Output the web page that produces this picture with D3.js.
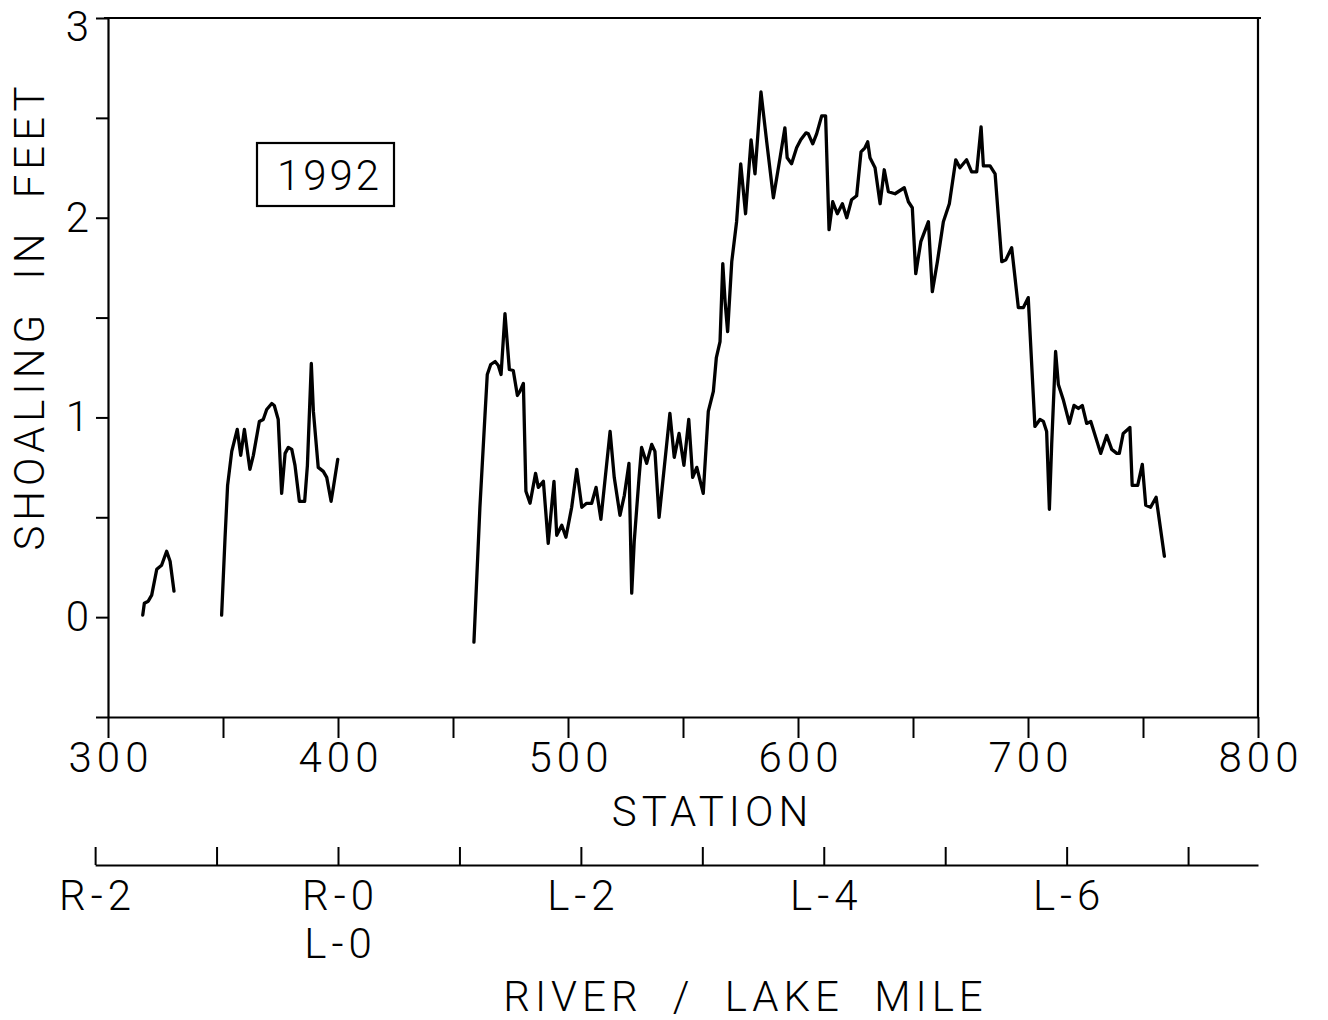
<!DOCTYPE html>
<html>
<head>
<meta charset="utf-8">
<script src="https://cdn.jsdelivr.net/npm/d3@7"></script>
<style>
  html, body { margin: 0; padding: 0; background: #fff; }
  svg { display: block; }
</style>
</head>
<body>
<svg id="chart" width="1328" height="1020"></svg>
<script>
// ---------------- DATA ----------------
const seg1Station = [315.1, 315.8, 317.5, 319.0, 321.2, 323.3, 325.5, 327.0, 328.7];
const seg1Shoal   = [0.01, 0.07, 0.08, 0.11, 0.24, 0.26, 0.33, 0.28, 0.13];

const seg2Station = [349.4, 350.9, 352.0, 353.8, 356.2, 357.7, 359.3, 361.7, 363.2, 365.8,
                     367.5, 369.0, 371.2, 372.3, 374.0, 375.5, 377.0, 378.4, 379.9, 381.3,
                     383.2, 385.5, 386.7, 388.4, 389.3, 391.4, 393.6, 395.1, 397.0, 398.0, 399.9];
const seg2Shoal   = [0.01, 0.40, 0.66, 0.83, 0.94, 0.81, 0.94, 0.74, 0.81, 0.98,
                     0.99, 1.04, 1.07, 1.06, 0.99, 0.62, 0.82, 0.85, 0.84, 0.76,
                     0.58, 0.58, 0.76, 1.27, 1.03, 0.75, 0.73, 0.70, 0.58, 0.65, 0.79];

const seg3Station = [459.1, 461.7, 463.9, 464.9, 466.4, 468.3, 469.7, 470.9, 472.6, 474.5,
                     476.2, 478.0, 479.1, 480.6, 481.7, 483.5, 485.9, 487.1, 489.3, 491.4,
                     493.9, 495.1, 497.3, 499.1, 501.6, 503.8, 506.0, 508.1, 510.3, 512.2,
                     514.3, 518.3, 520.1, 522.6, 524.5, 526.5, 527.7, 528.8, 530.9, 532.0,
                     534.2, 536.4, 537.8, 539.6, 544.3, 546.2, 548.3, 550.4, 552.5, 554.2,
                     556.0, 558.8, 561.0, 563.2, 564.5, 566.1, 567.3, 568.3, 569.4, 571.2,
                     573.3, 575.1, 577.2, 579.6, 581.3, 583.9, 586.4, 589.3, 592.2, 594.3,
                     595.3, 597.2, 599.4, 601.2, 603.5, 604.5, 606.4, 608.1, 610.3, 612.0,
                     613.5, 615.1, 617.1, 619.3, 621.2, 623.3, 625.5, 627.4, 629.1, 630.3,
                     631.3, 633.5, 635.7, 637.5, 639.3, 642.2, 646.2, 648.0, 649.7, 651.2,
                     653.4, 656.7, 658.4, 660.6, 663.2, 665.8, 668.6, 670.4, 673.3, 675.5,
                     677.7, 679.6, 680.6, 683.5, 685.7, 688.6, 690.4, 692.9, 695.8, 698.0,
                     700.1, 703.0, 705.2, 706.7, 708.1, 709.3, 710.3, 712.0, 713.2, 715.3,
                     718.0, 720.0, 721.9, 723.6, 725.5, 727.3, 731.6, 734.2, 736.4, 738.6,
                     739.7, 741.4, 744.3, 745.3, 747.7, 749.7, 751.2, 753.3, 755.7, 759.3];
const seg3Shoal   = [-0.125, 0.55, 1.01, 1.215, 1.265, 1.28, 1.26, 1.215, 1.52, 1.24,
                     1.235, 1.11, 1.13, 1.17, 0.63, 0.57, 0.72, 0.65, 0.68, 0.37,
                     0.68, 0.41, 0.46, 0.40, 0.55, 0.74, 0.55, 0.57, 0.57, 0.65,
                     0.49, 0.93, 0.70, 0.51, 0.61, 0.77, 0.12, 0.38, 0.70, 0.85,
                     0.77, 0.865, 0.83, 0.50, 1.02, 0.80, 0.92, 0.76, 0.99, 0.70,
                     0.75, 0.62, 1.03, 1.13, 1.30, 1.38, 1.77, 1.58, 1.43, 1.78,
                     1.98, 2.27, 2.02, 2.39, 2.22, 2.63, 2.38, 2.10, 2.30, 2.45,
                     2.30, 2.27, 2.35, 2.39, 2.425, 2.42, 2.37, 2.42, 2.51, 2.51,
                     1.94, 2.08, 2.02, 2.07, 2.00, 2.09, 2.11, 2.33, 2.35, 2.38,
                     2.30, 2.25, 2.07, 2.24, 2.13, 2.12, 2.15, 2.08, 2.05, 1.72,
                     1.88, 1.98, 1.63, 1.78, 1.98, 2.07, 2.29, 2.25, 2.29, 2.23,
                     2.23, 2.455, 2.26, 2.26, 2.22, 1.78, 1.79, 1.85, 1.55, 1.55,
                     1.60, 0.955, 0.99, 0.98, 0.93, 0.54, 0.865, 1.33, 1.165, 1.09,
                     0.97, 1.06, 1.045, 1.06, 0.97, 0.98, 0.82, 0.91, 0.84, 0.82,
                     0.82, 0.92, 0.95, 0.66, 0.66, 0.765, 0.56, 0.55, 0.60, 0.305];

const stationTicks = [300, 350, 400, 450, 500, 550, 600, 650, 700, 750, 800];
const stationLabels = [300, 400, 500, 600, 700, 800];
const shoalTicks = [-0.5, 0, 0.5, 1, 1.5, 2, 2.5, 3];
const shoalLabels = [0, 1, 2, 3];
const mileTicks = [-2, -1, 0, 1, 2, 3, 4, 5, 6, 7];
const mileLabels = [
  { mile: -2, lines: ["R-2"] },
  { mile: 0,  lines: ["R-0", "L-0"] },
  { mile: 2,  lines: ["L-2"] },
  { mile: 4,  lines: ["L-4"] },
  { mile: 6,  lines: ["L-6"] }
];
const stationsPerMile = 52.8;
const mileZeroStation = 400;
const yearLabel = "1992";
const yLabel = "SHOALING IN FEET";
const xLabel = "STATION";
const mileLabel = "RIVER / LAKE MILE";

// ---------------- DRAW ----------------
const FONT = "Roboto, 'DejaVu Sans', sans-serif";
const FS = 42;
const LS = 5;
const WS = 15;
const svg = d3.select("#chart");

const x = d3.scaleLinear([300, 800], [108, 1258]);
const y = d3.scaleLinear([-0.5, 3], [717, 18]);

function styleText(sel) {
  sel.attr("font-family", FONT).attr("font-weight", 300)
     .attr("font-size", FS).attr("letter-spacing", LS).attr("word-spacing", WS)
     .attr("fill", "#000");
}

// bottom station axis
const gx = svg.append("g").attr("transform", `translate(0,${y(-0.5)})`)
  .call(d3.axisBottom(x).tickValues(stationTicks).tickSize(21).tickSizeOuter(0).tickPadding(4)
    .tickFormat(d => stationLabels.includes(d) ? String(d) : ""));
gx.select(".domain").attr("stroke-width", 2.2);
gx.selectAll(".tick line").attr("stroke-width", 2);
gx.selectAll(".tick text").call(styleText).attr("dx", LS / 2);

// left shoaling axis
const gy = svg.append("g").attr("transform", `translate(${x(300)},0)`)
  .call(d3.axisLeft(y).tickValues(shoalTicks).tickSize(12).tickSizeOuter(0).tickPadding(7)
    .tickFormat(d => shoalLabels.includes(d) ? String(d) : ""));
gy.select(".domain").attr("stroke-width", 2.2);
gy.selectAll(".tick line").attr("stroke-width", 2);
gy.selectAll(".tick text").call(styleText).attr("letter-spacing", 0)
  .attr("dy", d => d === 3 ? "0.53em" : "0.32em");

// frame top & right
svg.append("line").attr("x1", x(300) - 4).attr("x2", x(800) + 3)
  .attr("y1", y(3)).attr("y2", y(3)).attr("stroke", "#000").attr("stroke-width", 2.2);
svg.append("line").attr("x1", x(800)).attr("x2", x(800))
  .attr("y1", y(3)).attr("y2", y(-0.5)).attr("stroke", "#000").attr("stroke-width", 2.2);

// data line
const line = d3.line().x(d => x(d[0])).y(d => y(d[1]));
const segments = [
  d3.zip(seg1Station, seg1Shoal),
  d3.zip(seg2Station, seg2Shoal),
  d3.zip(seg3Station, seg3Shoal)
];
svg.append("g").selectAll("path").data(segments).join("path")
  .attr("d", line).attr("fill", "none").attr("stroke", "#000")
  .attr("stroke-width", 3.3).attr("stroke-linejoin", "round").attr("stroke-linecap", "round");

// year box
const bx = svg.append("g");
bx.append("rect").attr("x", 257).attr("y", 143).attr("width", 137).attr("height", 63)
  .attr("fill", "none").attr("stroke", "#000").attr("stroke-width", 2.2);
bx.append("text").attr("x", 327 + LS / 2).attr("y", 190).attr("text-anchor", "middle")
  .call(styleText).attr("letter-spacing", 3).text(yearLabel);

// axis titles
svg.append("text").attr("transform", "translate(44,316) rotate(-90)")
  .attr("text-anchor", "middle").call(styleText).text(yLabel);
svg.append("text").attr("x", 710 + LS / 2).attr("y", 826).attr("text-anchor", "middle")
  .call(styleText).text(xLabel);

// river / lake mile axis
const mileToStation = m => mileZeroStation + stationsPerMile * m;
const mileScale = d3.scaleLinear()
  .domain([-2, (800 - mileZeroStation) / stationsPerMile])
  .range([x(mileToStation(-2)), x(800)]);
const gm = svg.append("g").attr("transform", "translate(0,865)")
  .call(d3.axisTop(mileScale).tickValues(mileTicks).tickSize(18).tickSizeOuter(0).tickFormat(""));
gm.select(".domain").attr("stroke-width", 2.2);
gm.selectAll(".tick line").attr("stroke-width", 2);

const ml = svg.append("g").selectAll("text").data(mileLabels).join("text")
  .attr("text-anchor", "middle").call(styleText);
ml.each(function(d) {
  const t = d3.select(this);
  d.lines.forEach((s, i) => {
    t.append("tspan").attr("x", mileScale(d.mile) + LS / 2).attr("y", 910 + i * 48).text(s);
  });
});

svg.append("text").attr("x", 743 + LS / 2).attr("y", 1011).attr("text-anchor", "middle")
  .call(styleText).text(mileLabel);
</script>
</body>
</html>
